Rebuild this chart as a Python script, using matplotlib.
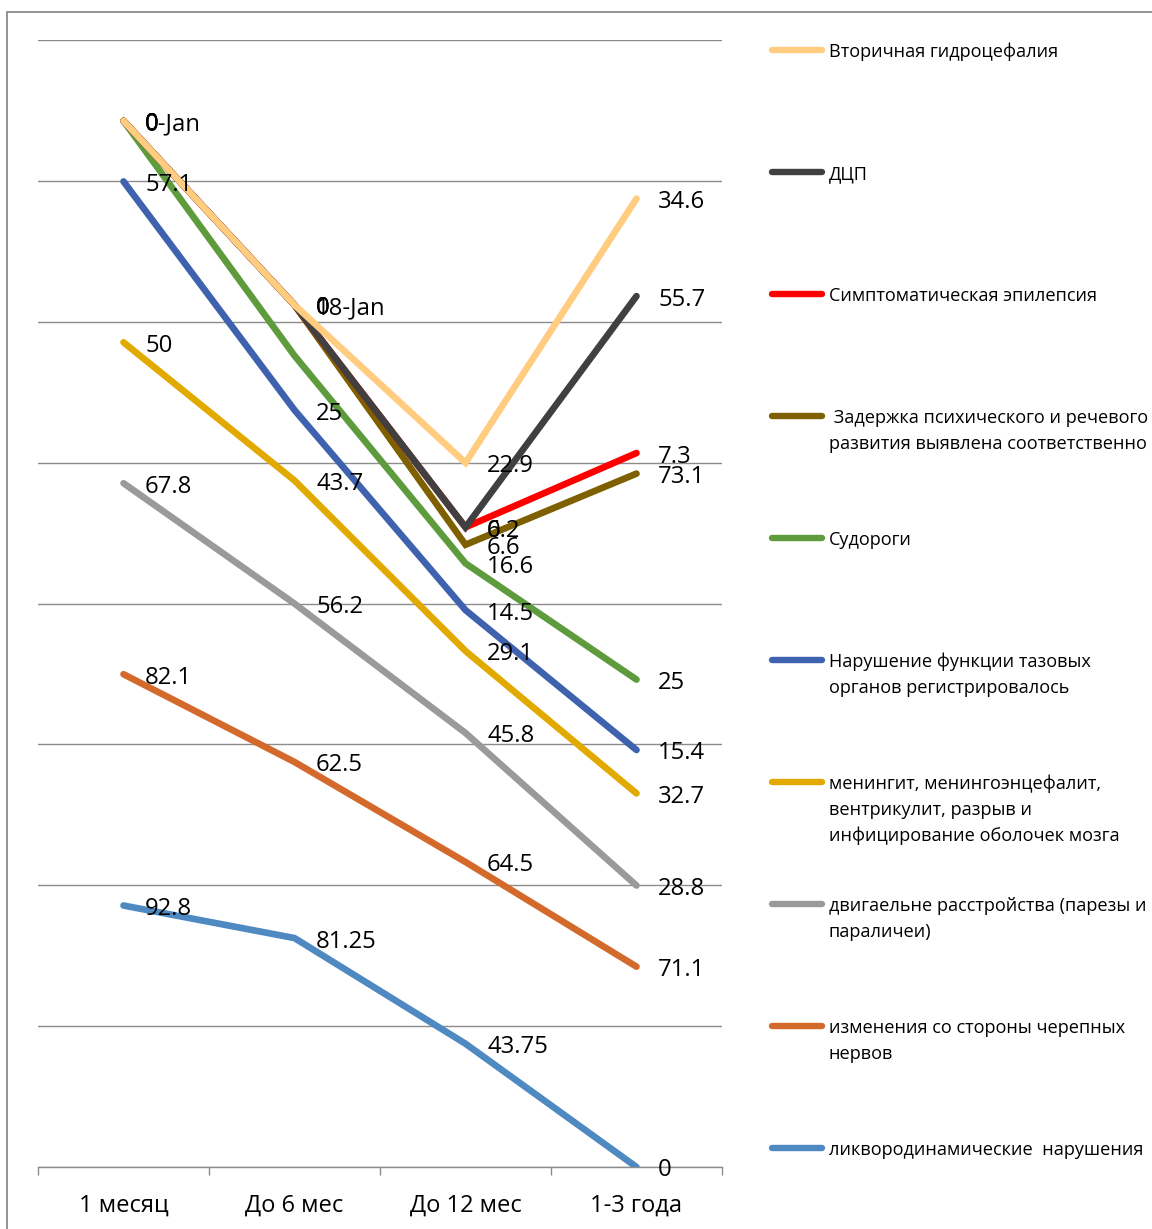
import matplotlib
matplotlib.use("Agg")
import matplotlib.pyplot as plt
from matplotlib.lines import Line2D
from matplotlib.patches import Rectangle
import numpy as np

plt.rcParams["font.family"] = ["Open Sans", "DejaVu Sans"]

# ---- данные (накопительный линейный график, как в Excel) ----
categories = ["1 месяц", "До 6 мес", "До 12 мес", "1-3 года"]

liquor = [92.8, 81.25, 43.75, 0]
nerves = [82.1, 62.5, 64.5, 71.1]
motor = [67.8, 56.2, 45.8, 28.8]
mening = [50, 43.7, 29.1, 32.7]
pelvic = [57.1, 25, 14.5, 15.4]
seizures = [21.5, 19.3, 16.6, 25]
delay = [0, 18, 6.6, 73.1]
epilepsy = [0, 0, 6.2, 7.3]
cp = [0, 0, 0, 55.7]
hydro = [0, 0, 22.9, 34.6]

# формат подписей: n - число, d - "дата" (как в исходнике), "" - без подписи
fmt_num = ["n", "n", "n", "n"]
fmt_date = ["d", "d", "n", "n"]
fmt_seiz = ["", "", "n", "n"]

series_names = [
    "ликвородинамические  нарушения",
    "изменения со стороны черепных\nнервов",
    "двигаельне расстройства (парезы и\nпараличеи)",
    "менингит, менингоэнцефалит,\nвентрикулит, разрыв и\nинфицирование оболочек мозга",
    "Нарушение функции тазовых\nорганов регистрировалось",
    "Судороги",
    " Задержка психического и речевого\nразвития выявлена соответственно",
    "Симптоматическая эпилепсия",
    "ДЦП",
    "Вторичная гидроцефалия",
]
series_values = [liquor, nerves, motor, mening, pelvic, seizures, delay, epilepsy, cp, hydro]
series_fmts = [fmt_num, fmt_num, fmt_num, fmt_num, fmt_num, fmt_seiz,
               fmt_date, fmt_num, fmt_num, fmt_num]
colors = ["#4E89C2", "#D4692C", "#9A9A9A", "#E2AA00", "#3E62AD",
          "#5E9B3D", "#7F6000", "#FF0000", "#404040", "#FFCC80"]

W, H = 1152, 1229


def fx(px):
    return px / W


def fy(py):
    return 1 - py / H


fig = plt.figure(figsize=(W / 100, H / 100), dpi=100)
ax = fig.add_axes([fx(38), fy(1167), fx(722) - fx(38), fy(40) - fy(1167)])

x = np.arange(len(categories))
cum = np.cumsum(np.array(series_values, dtype=float), axis=0)


def label_text(v, f):
    if f == "d":
        return f"{v:g}-Jan"
    return f"{v:g}"


for i, (vals, c, fm) in enumerate(zip(series_values, colors, series_fmts)):
    ax.plot(x, cum[i], color=c, lw=4.8, solid_capstyle="round",
            solid_joinstyle="miter", zorder=3 + i)
    for j in range(len(x)):
        if not fm[j]:
            continue
        ax.annotate(label_text(vals[j], fm[j]), (x[j], cum[i][j]),
                    xytext=(15.5, -2.5), textcoords="offset points",
                    ha="left", va="center", fontsize=17.2, color="black",
                    zorder=20)

ax.set_xlim(-0.5, len(categories) - 0.5)
ax.set_ylim(0, 400)
ax.set_yticks(np.arange(0, 401, 50))
ax.yaxis.grid(True, color="#8C8C8C", lw=1.0)
ax.set_axisbelow(True)
ax.tick_params(axis="y", left=False, labelleft=False)
for s in ["top", "right", "left"]:
    ax.spines[s].set_visible(False)
ax.spines["bottom"].set_color("#8C8C8C")
ax.spines["bottom"].set_linewidth(1.0)
ax.set_xticks(x)
ax.set_xticklabels(categories, fontsize=17)
ax.set_xticks(np.arange(-0.5, len(categories)), minor=True)
ax.tick_params(axis="x", which="major", length=0, pad=19)
ax.tick_params(axis="x", which="minor", length=6, color="#8C8C8C", width=1.0)

# ---- легенда справа (вручную, как в Excel) ----
for k, i in enumerate(range(len(series_names) - 1, -1, -1)):
    yy = 50 + 122 * k
    fig.add_artist(Line2D([fx(772), fx(822)], [fy(yy), fy(yy)], color=colors[i],
                          lw=4.6, solid_capstyle="round"))
    for n, line in enumerate(series_names[i].split("\n")):
        fig.text(fx(829), fy(yy + 2 + 26 * n), line, fontsize=13.1,
                 ha="left", va="center")

# рамка области диаграммы
fig.add_artist(Rectangle((fx(7), -0.05), 1.2, fy(12) + 0.05, fill=False,
                         edgecolor="#8A8A8A", lw=1.3))

fig.savefig("out.png", dpi=100)
